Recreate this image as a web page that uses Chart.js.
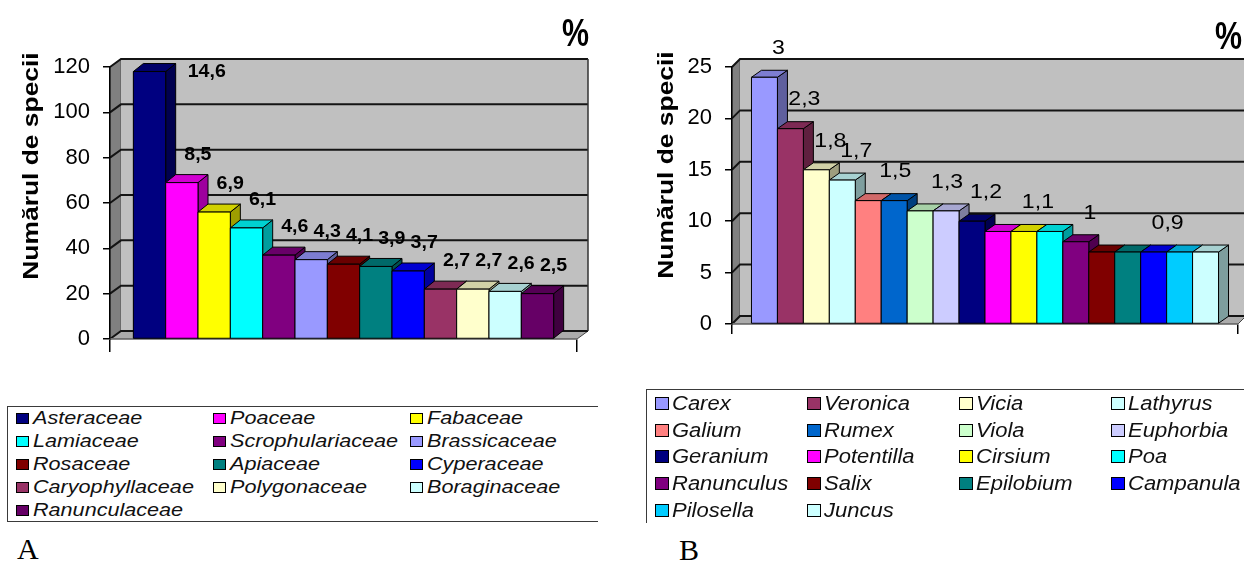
<!DOCTYPE html>
<html>
<head>
<meta charset="utf-8">
<script src="https://cdn.jsdelivr.net/npm/chart.js@4.4.1/dist/chart.umd.min.js"></script>
<style>
  html, body { margin: 0; padding: 0; background: #fff; }
  body { width: 1244px; height: 561px; position: relative; overflow: hidden;
         font-family: "Liberation Sans", Arial, sans-serif; color: #000; }
  .panel { position: absolute; top: 0; }
  #panelA { left: 0; }
  #panelB { left: 620px; }
  .pct { position: absolute; font-weight: bold; font-size: 38px; line-height: 1;
         transform: scaleX(0.8); transform-origin: 0 0; }
  .legend { position: absolute; box-sizing: border-box; display: grid; border: 1.5px solid #3a3a3a; }
  #legendA { left: 7px; top: 406px; width: 591px; height: 116px; border-right: none;
             grid-template-columns: repeat(3, 197px); grid-auto-rows: 23px; padding: 0 0 0 7.5px; }
  #legendB { left: 646px; top: 389px; width: 600px; height: 134px; border-right: none; border-bottom: none;
             grid-template-columns: repeat(4, 152px); grid-auto-rows: 26.7px; padding: 0 0 0 7.5px; }
  .item { display: flex; align-items: center; white-space: nowrap; }
  .sw { box-sizing: border-box; border: 1.5px solid #000; flex: none; display: inline-block; }
  .item span { display: inline-block; font-style: italic; color: #111; transform-origin: 0 50%; }
  #legendA .sw { width: 13px; height: 11px; margin-right: 4px; }
  #legendA span { font-size: 18px; transform: scaleX(1.2); }
  #legendB .sw { width: 14px; height: 13px; margin-right: 3px; }
  #legendB span { font-size: 20px; transform: scaleX(1.1); }
  .tag { position: absolute; font-family: "Liberation Serif", "Times New Roman", serif; font-size: 30px; line-height: 1; }
</style>
</head>
<body>
<div class="panel" id="panelA"><canvas id="chartA" width="620" height="400"></canvas></div>
<div class="panel" id="panelB"><canvas id="chartB" width="624" height="400"></canvas></div>
<div class="pct" style="left:562px; top:14px;">%</div>
<div class="pct" style="left:1215px; top:17px;">%</div>
<div class="legend" id="legendA"></div>
<div class="legend" id="legendB"></div>
<div class="tag" style="left:17px; top:534px;">A</div>
<div class="tag" style="left:679px; top:535px;">B</div>

<script>
// ---- Families (panel A) ----
const familyNames = ['Asteraceae', 'Poaceae', 'Fabaceae', 'Lamiaceae', 'Scrophulariaceae', 'Brassicaceae',
  'Rosaceae', 'Apiaceae', 'Cyperaceae', 'Caryophyllaceae', 'Polygonaceae', 'Boraginaceae', 'Ranunculaceae'];
const familyCounts = [118, 69, 56, 49, 37, 35, 33, 32, 30, 22, 22, 21, 20];
const familyPercents = [14.6, 8.5, 6.9, 6.1, 4.6, 4.3, 4.1, 3.9, 3.7, 2.7, 2.7, 2.6, 2.5];
const familyColors = ['#000080', '#FF00FF', '#FFFF00', '#00FFFF', '#800080', '#9999FF',
  '#800000', '#008080', '#0000FF', '#993366', '#FFFFCC', '#CCFFFF', '#660066'];
const familyTicks = [0, 20, 40, 60, 80, 100, 120];

// ---- Genera (panel B) ----
const genusNames = ['Carex', 'Veronica', 'Vicia', 'Lathyrus', 'Galium', 'Rumex', 'Viola', 'Euphorbia',
  'Geranium', 'Potentilla', 'Cirsium', 'Poa', 'Ranunculus', 'Salix', 'Epilobium', 'Campanula',
  'Pilosella', 'Juncus'];
const genusCounts = [24, 19, 15, 14, 12, 12, 11, 11, 10, 9, 9, 9, 8, 7, 7, 7, 7, 7];
const genusPercents = [3, 2.3, 1.8, 1.7, 1.5, 1.5, 1.3, 1.3, 1.2, 1.1, 1.1, 1.1, 1, 0.9, 0.9, 0.9, 0.9, 0.9];
const genusColors = ['#9999FF', '#993366', '#FFFFCC', '#CCFFFF', '#FF8080', '#0066CC', '#CCFFCC', '#CCCCFF',
  '#000080', '#FF00FF', '#FFFF00', '#00FFFF', '#800080', '#800000', '#008080', '#0000FF',
  '#00CCFF', '#CCFFFF'];
const genusTicks = [0, 5, 10, 15, 20, 25];

const axisTitle = 'Numărul de specii';
const FONT = '"Liberation Sans", Arial, sans-serif';

function shade(hex, f) {
  const n = parseInt(hex.slice(1), 16);
  const r = (n >> 16) & 255, g = (n >> 8) & 255, b = n & 255;
  return 'rgb(' + Math.round(r * f) + ',' + Math.round(g * f) + ',' + Math.round(b * f) + ')';
}

function barBox(chart, i) {
  const el = chart.getDatasetMeta(i).data[0];
  const p = el.getProps(['x', 'y', 'base', 'width'], true);
  return { l: p.x - p.width / 2, r: p.x + p.width / 2, top: p.y, base: p.base };
}

function poly(ctx, pts, fill) {
  ctx.beginPath();
  ctx.moveTo(pts[0][0], pts[0][1]);
  for (let k = 1; k < pts.length; k++) ctx.lineTo(pts[k][0], pts[k][1]);
  ctx.closePath();
  ctx.fillStyle = fill;
  ctx.fill();
  ctx.stroke();
}

// Walls, floor and shaded prism columns drawn around the plain Chart.js bars
const prism = {
  id: 'prism',
  beforeDraw(chart, args, o) {
    const { ctx, chartArea: a } = chart;
    const y = chart.scales.y;
    const wx = o.wallDX, wy = o.wallDY;
    ctx.save();
    ctx.lineJoin = 'miter';
    // side wall
    ctx.strokeStyle = '#555';
    ctx.lineWidth = 1;
    poly(ctx, [[a.left, a.top], [a.left + wx, a.top + wy], [a.left + wx, a.bottom + wy], [a.left, a.bottom]], '#808080');
    // back wall
    ctx.fillStyle = '#c0c0c0';
    ctx.fillRect(a.left + wx, a.top + wy, a.right - a.left, a.bottom - a.top);
    // floor
    ctx.strokeStyle = '#444';
    poly(ctx, [[a.left, a.bottom], [a.left + wx, a.bottom + wy], [a.right + wx, a.bottom + wy], [a.right, a.bottom]], '#ababab');
    // grid lines on side and back wall
    ctx.strokeStyle = '#141414';
    ctx.lineWidth = 2;
    y.ticks.forEach(t => {
      const py = y.getPixelForValue(t.value);
      ctx.beginPath();
      ctx.moveTo(a.left, py);
      ctx.lineTo(a.left + wx, py + wy);
      ctx.lineTo(a.right + wx, py + wy);
      ctx.stroke();
    });
    // back wall right edge
    ctx.lineWidth = 1.5;
    ctx.strokeStyle = '#333';
    ctx.beginPath();
    ctx.moveTo(a.right + wx, a.top + wy);
    ctx.lineTo(a.right + wx, a.bottom + wy);
    ctx.stroke();
    ctx.restore();
  },
  afterDatasetsDraw(chart, args, o) {
    const ctx = chart.ctx;
    const dx = o.depthX, dy = o.depthY;
    ctx.save();
    ctx.lineWidth = 1;
    ctx.strokeStyle = '#000';
    ctx.lineJoin = 'round';
    chart.data.datasets.forEach((ds, i) => {
      const g = barBox(chart, i);
      const c = ds.backgroundColor;
      poly(ctx, [[g.r, g.top], [g.r + dx, g.top + dy], [g.r + dx, g.base + dy], [g.r, g.base]], shade(c, 0.62));
      poly(ctx, [[g.l, g.top], [g.l + dx, g.top + dy], [g.r + dx, g.top + dy], [g.r, g.top]], shade(c, 0.82));
      poly(ctx, [[g.l, g.top], [g.r, g.top], [g.r, g.base], [g.l, g.base]], c);
    });
    ctx.restore();
  },
  afterDraw(chart, args, o) {
    const ctx = chart.ctx;
    const a = chart.chartArea;
    const vals = o.percents;
    ctx.save();
    ctx.fillStyle = '#000';
    ctx.textAlign = 'center';
    ctx.textBaseline = 'middle';
    ctx.font = o.labelFont;
    let i = 0;
    while (i < vals.length) {
      let j = i;
      if (o.groupEqual) while (j + 1 < vals.length && vals[j + 1] === vals[i]) j++;
      const g0 = barBox(chart, i), g1 = barBox(chart, j);
      const text = String(vals[i]).replace('.', ',');
      const w = ctx.measureText(text).width * o.labelScaleX;
      let x = (g0.l + g1.r) / 2 + o.labelDX;
      let y = Math.min(g0.top, g1.top) + o.labelDY;
      if (o.sideWhenHigh && y - 8 < a.top + o.wallDY) {
        x = g1.r + o.depthX + 12 + w / 2;
        y = g0.top;
      }
      ctx.save();
      ctx.translate(x, y);
      ctx.scale(o.labelScaleX, 1);
      ctx.fillText(text, 0, 0);
      ctx.restore();
      i = j + 1;
    }
    // value axis title
    ctx.save();
    ctx.translate(o.titleX, o.titleY);
    ctx.rotate(-Math.PI / 2);
    ctx.scale(1.2, 1);
    ctx.font = 'bold 22px ' + FONT;
    ctx.fillText(axisTitle, 0, 0);
    ctx.restore();
    ctx.restore();
  }
};

function makeChart(id, names, counts, colors, ticks, area, catPct, xTick, opts) {
  const canvas = document.getElementById(id);
  const W = canvas.width, H = canvas.height;
  return new Chart(canvas, {
    type: 'bar',
    data: {
      labels: [''],
      datasets: names.map((n, i) => ({ label: n, data: [counts[i]], backgroundColor: colors[i], borderWidth: 0 }))
    },
    options: {
      responsive: false,
      animation: false,
      devicePixelRatio: 1,
      layout: { padding: { left: 0, top: area.top, right: W - area.right, bottom: H - area.bottom - 20 } },
      datasets: { bar: { barPercentage: 1, categoryPercentage: catPct } },
      plugins: { legend: { display: false }, tooltip: { enabled: false }, prism: opts },
      scales: {
        x: {
          ticks: { display: false },
          grid: { drawOnChartArea: false, offset: true, tickLength: xTick, color: '#000', lineWidth: 1.5 },
          border: { display: true, color: '#707070', width: 1.5 },
          afterFit(s) { s.height = 20; }
        },
        y: {
          min: ticks[0],
          max: ticks[ticks.length - 1],
          afterBuildTicks(s) { s.ticks = ticks.map(v => ({ value: v })); },
          ticks: { color: '#000', padding: 13, font: { size: 22, family: FONT } },
          grid: { drawOnChartArea: false, tickLength: 7, color: '#000', lineWidth: 1.5 },
          border: { display: true, color: '#000', width: 1.5 },
          afterFit(s) { s.width = area.left; }
        }
      }
    },
    plugins: [prism]
  });
}

makeChart('chartA', familyNames, familyCounts, familyColors, familyTicks,
  { left: 110, right: 577, top: 67, bottom: 339 }, 0.9, 13,
  { percents: familyPercents, depthX: 10, depthY: -8, wallDX: 11, wallDY: -8,
    labelFont: 'bold 19px ' + FONT, labelScaleX: 1.03, labelDX: 16, labelDY: -28,
    groupEqual: false, sideWhenHigh: true, titleX: 32, titleY: 166 });

makeChart('chartB', genusNames, genusCounts, genusColors, genusTicks,
  { left: 112, right: 618, top: 67, bottom: 324 }, 0.923, 10,
  { percents: genusPercents, depthX: 10, depthY: -7, wallDX: 8, wallDY: -8,
    labelFont: '21px ' + FONT, labelScaleX: 1.1, labelDX: 14, labelDY: -29,
    groupEqual: true, sideWhenHigh: false, titleX: 47, titleY: 165 });

function buildLegend(id, names, colors) {
  const box = document.getElementById(id);
  names.forEach((n, i) => {
    const it = document.createElement('div');
    it.className = 'item';
    const sw = document.createElement('i');
    sw.className = 'sw';
    sw.style.background = colors[i];
    const tx = document.createElement('span');
    tx.textContent = n;
    it.appendChild(sw);
    it.appendChild(tx);
    box.appendChild(it);
  });
}
buildLegend('legendA', familyNames, familyColors);
buildLegend('legendB', genusNames, genusColors);
</script>
</body>
</html>
